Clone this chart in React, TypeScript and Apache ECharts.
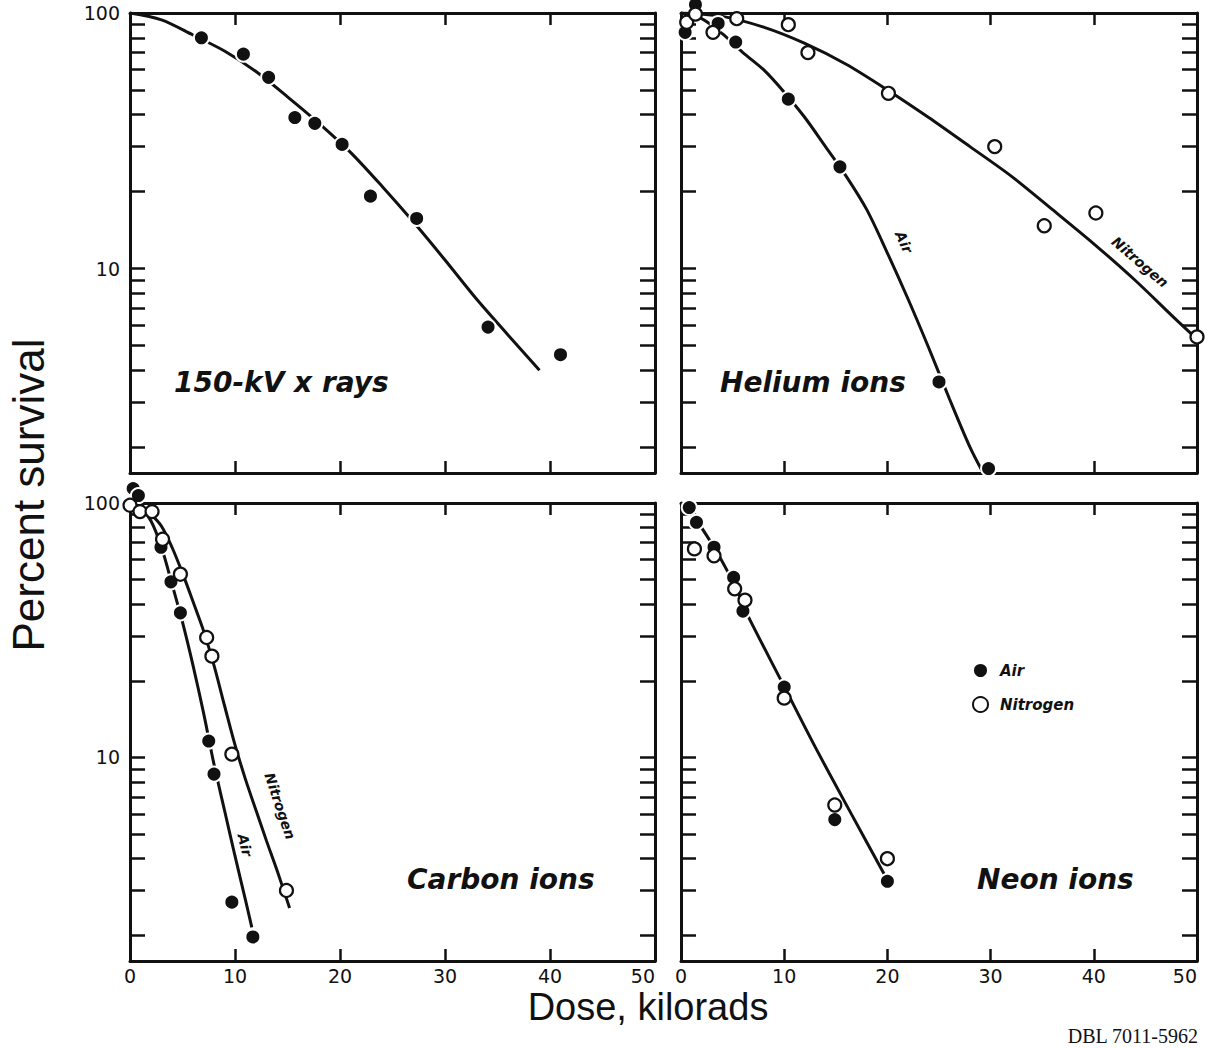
import React, { useEffect, useRef } from "react";
import * as echarts from "echarts";

// ---- Data (dose in kilorads, percent survival) ----
const xrayDose = [6.8, 10.8, 13.2, 15.7, 17.6, 20.2, 22.9, 27.3, 34.1, 41.0];
const xraySurv = [80, 69, 56, 39, 37, 30.6, 19.2, 15.7, 5.9, 4.6];
const xrayCurveDose = [0, 3, 6, 9, 12, 15, 18, 21, 24, 27, 30, 33, 36, 39];
const xrayCurveSurv = [100, 94, 82, 71, 59, 47, 37, 28.5, 21, 15.2, 10.8, 7.6, 5.5, 4.0];

const heliumAirDose = [0.4, 1.4, 3.6, 5.3, 10.4, 15.4, 25.0, 29.8];
const heliumAirSurv = [84, 108, 91, 77, 46, 25, 3.6, 1.65];
const heliumN2Dose = [0.55, 1.4, 3.1, 5.4, 10.4, 12.3, 20.1, 30.4, 35.2, 40.2, 50.0];
const heliumN2Surv = [92, 99, 84, 95, 90, 70, 48.5, 30, 14.7, 16.5, 5.4];
const heliumAirCurveDose = [0, 2, 4, 6, 8, 10, 12, 14, 16, 18, 20, 22, 24, 26, 28, 29.3];
const heliumAirCurveSurv = [100, 95, 83, 70, 60, 49, 39, 30, 23, 17, 11.5, 7.6, 4.9, 3.1, 2.0, 1.58];
const heliumN2CurveDose = [0, 4, 8, 12, 16, 20, 24, 28, 32, 36, 40, 44, 48, 50];
const heliumN2CurveSurv = [100, 97, 88, 76, 63, 50, 39, 30, 23, 17, 12.5, 9, 6.3, 5.3];

const carbonAirDose = [0.3, 0.8, 2.95, 3.9, 4.8, 7.5, 8.0, 9.7, 11.7];
const carbonAirSurv = [114, 107, 67, 49, 37, 11.6, 8.6, 2.7, 1.97];
const carbonN2Dose = [0, 0.95, 2.1, 3.1, 4.8, 7.3, 7.8, 9.7, 14.9];
const carbonN2Surv = [98, 92.5, 92.5, 72, 52.5, 29.6, 25, 10.3, 3.0];
const carbonAirCurveDose = [0, 1, 2, 3, 4, 5, 6, 7, 8, 9, 10, 11, 11.6];
const carbonAirCurveSurv = [100, 96, 85, 67, 48, 34, 23, 15, 9.4, 6.2, 4.1, 2.75, 2.15];
const carbonN2CurveDose = [0, 1, 2, 3, 4, 5, 6, 7, 8, 9, 10, 11, 12, 13, 14, 15.2];
const carbonN2CurveSurv = [100, 96, 90, 81, 67, 53, 41, 31.5, 23, 16, 11.2, 8.2, 6.2, 4.7, 3.6, 2.56];

const neonAirDose = [0.8, 1.5, 3.2, 5.1, 6.0, 10.0, 14.9, 20.0];
const neonAirSurv = [96, 84, 67, 51, 37.6, 18.9, 5.7, 3.26];
const neonN2Dose = [1.3, 3.2, 5.2, 6.2, 10.0, 14.9, 20.0];
const neonN2Surv = [66, 62, 46, 41.5, 17.1, 6.5, 4.0];
const neonCurveDose = [0.8, 1.5, 3.2, 4.5, 5.5, 6.2, 10, 13, 16.5, 20];
const neonCurveSurv = [96, 86, 67, 54, 45, 38, 19, 11, 6.0, 3.3];

const xTickLabels = [0, 10, 20, 30, 40, 50];
const yTickValues = [2, 3, 4, 5, 6, 7, 8, 9, 10, 20, 30, 40, 50, 60, 70, 80, 90, 100];
const yLabelValues = [10, 100];

const panelTitles = ["150-kV x rays", "Helium ions", "Carbon ions", "Neon ions"];

const INK = "#111";
const Y_MIN = Math.pow(10, 0.2);
const Y_MAX = 100;

const zip = (xs: number[], ys: number[]) => xs.map((x, i) => [x, ys[i]]);

function App() {
  const ref = useRef<HTMLDivElement>(null);

  useEffect(() => {
    document.body.style.margin = "0";
    if (!ref.current) return;
    const chart = echarts.init(ref.current, null, { renderer: "svg", width: 1209, height: 1048 });

    const grids = [
      { left: 130, top: 13, width: 525, height: 460 },
      { left: 681, top: 13, width: 516, height: 460 },
      { left: 130, top: 503, width: 525, height: 458 },
      { left: 681, top: 503, width: 516, height: 458 },
    ];

    const axisLine = { show: true, onZero: false, lineStyle: { color: INK, width: 3 } };
    const xAxes: any[] = [];
    const yAxes: any[] = [];
    grids.forEach((_, i) => {
      const showX = i >= 2;
      const showY = i % 2 === 0;
      ["bottom", "top"].forEach((pos, k) => {
        xAxes.push({
          type: "value",
          gridIndex: i,
          position: pos,
          min: 0,
          max: 50,
          interval: 10,
          axisLine,
          axisTick: { show: true, inside: true, length: 12, lineStyle: { color: INK, width: 2.5 } },
          axisLabel: {
            show: showX && k === 0,
            color: INK,
            fontSize: 19,
            fontFamily: "DejaVu Sans",
            margin: 5,
            alignMaxLabel: "right",
            customValues: xTickLabels,
          },
          splitLine: { show: false },
        });
      });
      ["left", "right"].forEach((pos, k) => {
        yAxes.push({
          type: "log",
          logBase: 10,
          gridIndex: i,
          position: pos,
          min: Y_MIN,
          max: Y_MAX,
          axisLine,
          axisTick: {
            show: true,
            inside: true,
            length: 15,
            customValues: yTickValues,
            lineStyle: { color: INK, width: 2.5 },
          },
          axisLabel: {
            show: showY && k === 0,
            customValues: yLabelValues,
            color: INK,
            fontSize: 19,
            fontFamily: "DejaVu Sans",
            margin: 10,
            formatter: (v: number) => String(Math.round(v)),
          },
          splitLine: { show: false },
          minorSplitLine: { show: false },
        });
      });
    });

    const filled = (name: string, g: number, data: number[][]) => ({
      name,
      type: "scatter",
      xAxisIndex: g * 2,
      yAxisIndex: g * 2,
      data,
      symbol: "circle",
      symbolSize: 15,
      clip: false,
      z: 4,
      itemStyle: { color: INK, borderColor: "#fff", borderWidth: 2, opacity: 1 },
    });
    const open = (name: string, g: number, data: number[][]) => ({
      name,
      type: "scatter",
      xAxisIndex: g * 2,
      yAxisIndex: g * 2,
      data,
      symbol: "circle",
      symbolSize: 13,
      clip: false,
      z: 5,
      itemStyle: { color: "#fff", borderColor: INK, borderWidth: 2.2, opacity: 1 },
    });
    const curve = (name: string, g: number, data: number[][]) => ({
      name,
      type: "line",
      xAxisIndex: g * 2,
      yAxisIndex: g * 2,
      data,
      showSymbol: false,
      symbol: "none",
      smooth: 0.3,
      clip: true,
      z: 2,
      lineStyle: { color: INK, width: 3 },
    });

    const series: any[] = [
      curve("X-ray fit", 0, zip(xrayCurveDose, xrayCurveSurv)),
      filled("X rays", 0, zip(xrayDose, xraySurv)),
      curve("Helium air fit", 1, zip(heliumAirCurveDose, heliumAirCurveSurv)),
      curve("Helium nitrogen fit", 1, zip(heliumN2CurveDose, heliumN2CurveSurv)),
      open("Nitrogen", 1, zip(heliumN2Dose, heliumN2Surv)),
      filled("Air", 1, zip(heliumAirDose, heliumAirSurv)),
      curve("Carbon air fit", 2, zip(carbonAirCurveDose, carbonAirCurveSurv)),
      curve("Carbon nitrogen fit", 2, zip(carbonN2CurveDose, carbonN2CurveSurv)),
      open("Nitrogen", 2, zip(carbonN2Dose, carbonN2Surv)),
      filled("Air", 2, zip(carbonAirDose, carbonAirSurv)),
      curve("Neon fit", 3, zip(neonCurveDose, neonCurveSurv)),
      open("Nitrogen", 3, zip(neonN2Dose, neonN2Surv)),
      filled("Air", 3, zip(neonAirDose, neonAirSurv)),
    ];

    const titleFont = {
      fontSize: 28,
      fontFamily: "DejaVu Sans",
      fontWeight: "bold",
      fontStyle: "italic",
      fill: INK,
      verticalAlign: "middle",
      align: "left",
    };
    const smallFont = {
      fontSize: 14,
      fontFamily: "DejaVu Sans",
      fontWeight: "bold",
      fontStyle: "italic",
      fill: INK,
      verticalAlign: "middle",
      align: "center",
    };

    const graphic: any[] = [
      { type: "text", x: 174, y: 382, style: { ...titleFont, text: panelTitles[0] } },
      { type: "text", x: 720, y: 382, style: { ...titleFont, text: panelTitles[1] } },
      { type: "text", x: 407, y: 879, style: { ...titleFont, text: panelTitles[2] } },
      { type: "text", x: 977, y: 879, style: { ...titleFont, text: panelTitles[3] } },
      { type: "text", x: 904, y: 242, rotation: -1.15, style: { ...smallFont, text: "Air" } },
      { type: "text", x: 1140, y: 262, rotation: -0.71, style: { ...smallFont, text: "Nitrogen" } },
      { type: "text", x: 280, y: 806, rotation: -1.245, style: { ...smallFont, text: "Nitrogen" } },
      { type: "text", x: 245, y: 845, rotation: -1.34, style: { ...smallFont, text: "Air" } },
      {
        type: "text",
        x: 28,
        y: 495,
        rotation: Math.PI / 2,
        style: {
          text: "Percent survival",
          fontSize: 44,
          fontFamily: "Liberation Sans",
          fill: INK,
          align: "center",
          verticalAlign: "middle",
        },
      },
      {
        type: "text",
        x: 648,
        y: 1007,
        style: {
          text: "Dose, kilorads",
          fontSize: 38,
          fontFamily: "Liberation Sans",
          fill: INK,
          align: "center",
          verticalAlign: "middle",
        },
      },
      {
        type: "text",
        x: 1198,
        y: 1026,
        style: {
          text: "DBL 7011-5962",
          fontSize: 20,
          fontFamily: "Liberation Serif",
          fill: INK,
          align: "right",
          verticalAlign: "top",
        },
      },
    ];

    chart.setOption({
      animation: false,
      backgroundColor: "#fff",
      grid: grids,
      xAxis: xAxes,
      yAxis: yAxes,
      legend: {
        data: [
          { name: "Air", icon: "circle" },
          { name: "Nitrogen", icon: "circle" },
        ],
        orient: "vertical",
        left: 967,
        top: 657,
        itemWidth: 15,
        itemHeight: 15,
        itemGap: 17,
        selectedMode: false,
        textStyle: {
          color: INK,
          fontSize: 15,
          fontFamily: "DejaVu Sans",
          fontWeight: "bold",
          fontStyle: "italic",
          padding: [0, 0, 0, 7],
        },
      },
      series,
      graphic,
    });

    return () => chart.dispose();
  }, []);

  return <div ref={ref} style={{ width: 1209, height: 1048 }} />;
}

export default App;
